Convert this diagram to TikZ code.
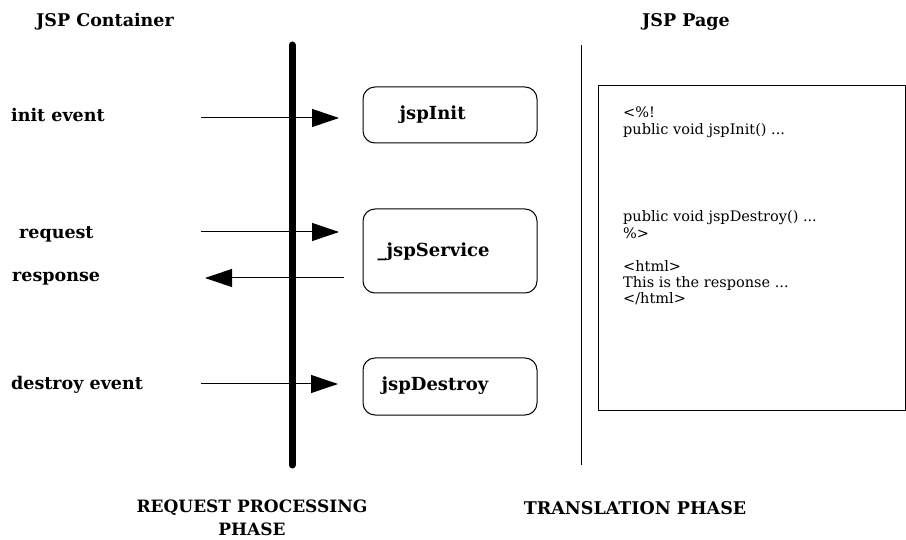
\documentclass[tikz,border=0pt]{standalone}
\usepackage{fontspec}
\setmainfont{DejaVu Serif}
\usetikzlibrary{arrows.meta}
\tikzset{
  lbl/.style={font=\fontsize{17.5}{20}\selectfont\bfseries, inner sep=0pt},
  proc/.style={draw, line width=1pt, rounded corners=12pt, minimum width=174pt, inner sep=0pt},
  boxtxt/.style={font=\fontsize{18}{20}\selectfont\bfseries, inner sep=0pt, anchor=west},
  code/.style={font=\fontsize{14.5}{16.5}\selectfont, inner sep=0pt, anchor=base west},
  arr/.style={line width=1pt, -{Triangle[length=27pt,width=18pt]}},
}
\begin{document}
\begin{tikzpicture}[x=1pt,y=-1pt]
\useasboundingbox (0,0) rectangle (906,540);
% headers
\node[lbl] (hc) at (105,22) {JSP Container};
\node[lbl] (hp) at (686,22) {JSP Page};
% phase lines
\coordinate (t1) at (292,45); \coordinate (b1) at (292,465);
\draw[line width=7pt, line cap=round] (t1) -- (b1);
\coordinate (t2) at (581,45); \coordinate (b2) at (581,465);
\draw[line width=1pt] (t2) -- (b2);
% boxes
\node[proc, minimum height=56pt] (init) at (450,115) {};
\node[proc, minimum height=84pt] (serv) at (450,251) {};
\node[proc, minimum height=57pt] (dest) at (450,386.5) {};
\node[boxtxt] (initt) at ([xshift=37pt]init.west) {jspInit};
\node[boxtxt] (servt) at ([xshift=15pt,yshift=-1pt]serv.west) {\_jspService};
\node[boxtxt] (destt) at ([xshift=19pt,yshift=1pt]dest.west) {jspDestroy};
% labels
\node[lbl, anchor=west] (ie) at (11,115) {init event};
\node[lbl, anchor=west] (rq) at (19,234) {request};
\node[lbl, anchor=west] (rs) at (12,279) {response};
\node[lbl, anchor=west] (de) at (11,385) {destroy event};
% arrows
\coordinate (a1) at (201,118); \coordinate (e1) at (339,118);
\draw[arr] (a1) -- (e1);
\coordinate (a2) at (201,232); \coordinate (e2) at (339,232);
\draw[arr] (a2) -- (e2);
\coordinate (a3) at (344,278); \coordinate (e3) at (205,278);
\draw[arr] (a3) -- (e3);
\coordinate (a4) at (201,384); \coordinate (e4) at (338,384);
\draw[arr] (a4) -- (e4);
% JSP page box
\node[draw, line width=1pt, minimum width=307pt, minimum height=324pt, inner sep=0pt] (page) at (751.5,248) {};
\node[code] (c1) at (623,118) {<\%!};
\node[code] (c2) at (623,135) {public void jspInit() ...};
\node[code] (c3) at (623,222) {public void jspDestroy() ...};
\node[code] (c4) at (623,239) {\%>};
\node[code] (c5) at (623,272) {<html>};
\node[code] (c6) at (623,288) {This is the response ...};
\node[code] (c7) at (623,304) {</html>};
% bottom
\node[lbl, align=center, font=\fontsize{17}{23}\selectfont\bfseries] (rp) at (252,518) {REQUEST PROCESSING\\PHASE};
\node[lbl] (tp) at (635,508) {TRANSLATION PHASE};
\end{tikzpicture}
\end{document}
